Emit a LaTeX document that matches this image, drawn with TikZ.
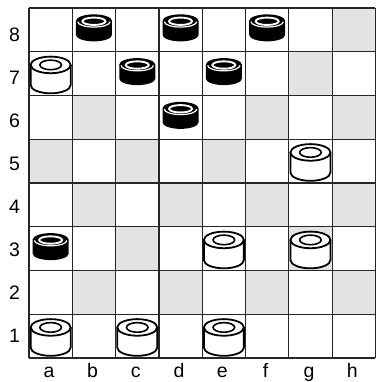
\documentclass[tikz,border=0pt]{standalone}
\usepackage{fontspec}
\setmainfont{Liberation Sans}
\begin{document}
\begin{tikzpicture}[x=1pt,y=-1pt,
  lbl/.style={font=\fontsize{19.5}{19.5}\selectfont, inner sep=0, anchor=base},
  gridline/.style={draw=black!85, line width=1.2},
  darksq/.style={fill=black!11},
  wpiece/.pic={
    \draw[line width=1.8, fill=white, line join=round]
      (-20,-8.7) -- (-20,11.4) arc[start angle=180, end angle=0, x radius=20, y radius=8.3] -- (20,-8.7);
    \draw[line width=1.8, fill=white] (0,-8.7) ellipse[x radius=20, y radius=8.3];
    \draw[line width=1.6] (0,-8.7) ellipse[x radius=10.8, y radius=4.8];
  },
  bpiece/.pic={
    \fill[black] (-18,-9) -- (-18,5) arc[start angle=180, end angle=0, x radius=18, y radius=6.5] -- (18,-9) -- cycle;
    \fill[black] (0,-9) ellipse[x radius=18, y radius=6.5];
    \draw[white, line width=1.9] (0,-8.6) ellipse[x radius=11.5, y radius=3.7];
    \draw[white, line width=1.2] (-16.2,-8.2) arc[start angle=180, end angle=0, x radius=16.2, y radius=5.4];
  }]
\useasboundingbox (0,0) rectangle (375,382);
% squares (occupied dark squares are left white, as in the print)
\foreach \l [count=\c] in {a,b,c,d,e,f,g,h}{
  \foreach \r in {1,...,8}{
    \coordinate (\l\r) at ({29+(\c-0.5)*43.3},{8+(8.5-\r)*43.75});
  }
}
\foreach \c/\r in {2/6,3/5,5/5,2/4,4/4,6/4,8/4,3/3,2/2,4/2,6/2,8/2,8/8,7/7,6/6,8/6,7/3,1/5}{
  \fill[darksq] ({29+(\c-1)*43.3},{8+(8-\r)*43.75}) rectangle ++(43.3,43.75);
}
% grid
\foreach \i in {0,...,8}{
  \draw[gridline] ({29+\i*43.3},8) -- ({29+\i*43.3},358);
  \draw[gridline] (29,{8+\i*43.75}) -- (375,{8+\i*43.75});
}
% labels
\foreach \r in {1,...,8}{
  \node[lbl] (n\r) at (14.5,{41.7+(8-\r)*43.04}) {\r};
}
\foreach \l [count=\c] in {a,b,c,d,e,f,g,h}{
  \node[lbl] (l\l) at ({29+(\c-0.5)*43.3-1.5},377.5) {\l};
}
% black pieces
\foreach \s in {b8,d8,f8,c7,e7,d6,a3}{
  \pic at (\s) {bpiece};
}
% white pieces
\foreach \s in {a7,g5,e3,g3,a1,c1,e1}{
  \pic at (\s) {wpiece};
}
\end{tikzpicture}
\end{document}
